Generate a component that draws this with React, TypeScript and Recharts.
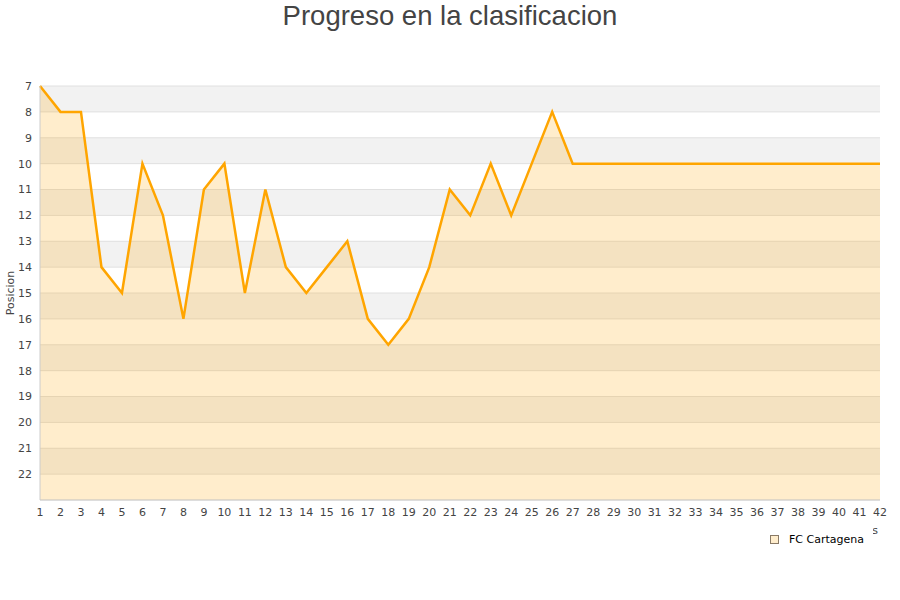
import React from 'react';
import {
  AreaChart,
  Area,
  XAxis,
  YAxis,
  CartesianGrid,
  Legend,
} from 'recharts';

// Jornadas 1..42
const jornadas = Array.from({ length: 42 }, (_, i) => i + 1);

// Posicion per jornada
const posiciones = [
  7, 8, 8, 14, 15, 10, 12, 16, 11, 10,
  15, 11, 14, 15, 14, 13, 16, 17, 16, 14,
  11, 12, 10, 12, 10, 8, 10, 10, 10, 10,
  10, 10, 10, 10, 10, 10, 10, 10, 10, 10,
  10, 10,
];

const yTicks = [7, 8, 9, 10, 11, 12, 13, 14, 15, 16, 17, 18, 19, 20, 21, 22, 23];
const teamName = 'FC Cartagena';

const data = jornadas.map((j, i) => ({ j, pos: posiciones[i] }));

const tickStyle = { fontSize: 11, fill: '#444', fontFamily: 'DejaVu Sans' };

const LegendContent = () => (
  <div
    style={{
      display: 'flex',
      alignItems: 'center',
      height: '100%',
      fontFamily: 'DejaVu Sans',
      fontSize: 11,
      color: '#000',
    }}
  >
    <span
      style={{
        display: 'inline-block',
        width: 7,
        height: 7,
        background: '#ffedcc',
        border: '1px solid #8a7a66',
        marginLeft: 8,
        marginRight: 10,
      }}
    />
    <span>{teamName}</span>
  </div>
);

const App: React.FC = () => {
  return (
    <div style={{ position: 'relative', width: 900, height: 600, background: '#fff' }}>
      <style>{`body{margin:0}`}</style>
      <div
        style={{
          position: 'absolute',
          left: 0,
          top: 0,
          width: 900,
          textAlign: 'center',
          fontFamily: 'Liberation Sans, Arial, sans-serif',
          fontSize: 27.5,
          lineHeight: '32px',
          color: '#444',
          zIndex: 2,
        }}
      >
        Progreso en la clasificacion
      </div>
      <AreaChart
        width={900}
        height={600}
        data={data}
        margin={{ top: 86, right: 20, left: 0, bottom: 34 }}
      >
        <CartesianGrid
          vertical={false}
          stroke="#e0e0e0"
          horizontalFill={['#f2f2f2', '#ffffff']}
          fillOpacity={1}
        />
        <XAxis
          dataKey="j"
          type="number"
          domain={[1, 42]}
          ticks={jornadas}
          interval={0}
          height={40}
          tickLine={false}
          axisLine={{ stroke: '#ccc' }}
          tick={tickStyle}
          label={{
            value: 'Jornadas',
            position: 'insideBottomRight',
            offset: 6,
            dx: 4,
            style: { fontSize: 11, fill: '#444', fontFamily: 'DejaVu Sans' },
          }}
        />
        <YAxis
          type="number"
          reversed
          domain={[7, 23]}
          ticks={yTicks}
          interval={0}
          width={40}
          tickLine={false}
          axisLine={{ stroke: '#ccc' }}
          tick={tickStyle}
          tickFormatter={(v: number) => (v === 23 ? '' : String(v))}
          label={{
            value: 'Posicion',
            angle: -90,
            position: 'insideLeft',
            offset: 10,
            style: { fontSize: 11, fill: '#444', fontFamily: 'DejaVu Sans', textAnchor: 'middle' },
          }}
        />
        <Area
          type="linear"
          dataKey="pos"
          name={teamName}
          baseValue="dataMax"
          stroke="#ffa500"
          strokeWidth={2.5}
          fill="#ffa500"
          fillOpacity={0.2}
          dot={false}
          activeDot={false}
          isAnimationActive={false}
        />
        <Legend
          content={<LegendContent />}
          wrapperStyle={{
            left: 762,
            top: 526,
            right: 'auto',
            bottom: 'auto',
            width: 111,
            height: 26,
            background: '#fff',
          }}
        />
      </AreaChart>
    </div>
  );
};

export default App;
